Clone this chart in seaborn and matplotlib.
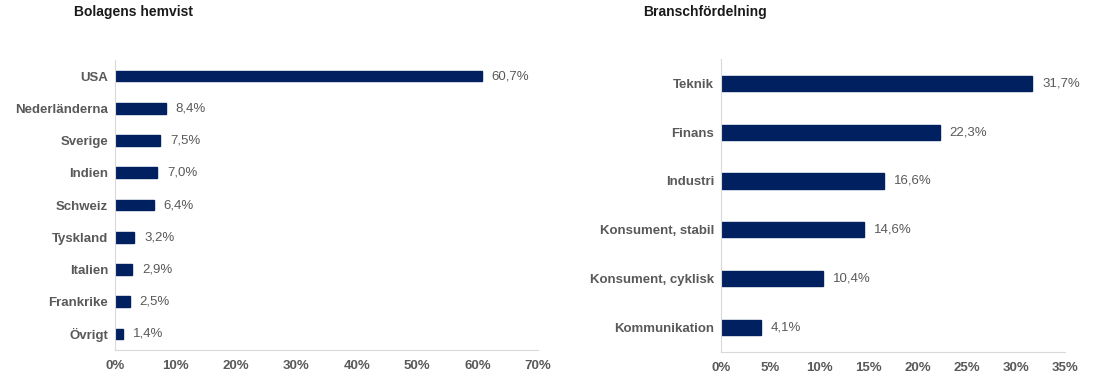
import matplotlib
matplotlib.use("Agg")
import matplotlib.pyplot as plt
import seaborn as sns
import numpy as np
import pandas as pd
from matplotlib.ticker import FixedLocator, FuncFormatter

sns.set_theme(style="white")
plt.rcParams['font.family'] = ['Liberation Sans', 'DejaVu Sans']

countries = ["USA", "Nederländerna", "Sverige", "Indien", "Schweiz",
             "Tyskland", "Italien", "Frankrike", "Övrigt"]
country_vals = [60.7, 8.4, 7.5, 7.0, 6.4, 3.2, 2.9, 2.5, 1.4]

sectors = ["Teknik", "Finans", "Industri", "Konsument, stabil",
           "Konsument, cyklisk", "Kommunikation"]
sector_vals = [31.7, 22.3, 16.6, 14.6, 10.4, 4.1]

left_title = "Bolagens hemvist"
right_title = "Branschfördelning"

NAVY = "#002060"
GREY = "#595959"
SPINE = "#d9d9d9"

fig = plt.figure(figsize=(11, 3.8), dpi=100)
ax1 = fig.add_axes([0.1045, 0.079, 0.3845, 0.763])
ax2 = fig.add_axes([0.6555, 0.074, 0.3125, 0.771])


def draw(ax, cats, vals, xmax, step, width, title, title_x):
    df = pd.DataFrame({"cat": cats, "val": vals})
    sns.barplot(data=df, y="cat", x="val", orient="h", color=NAVY,
                width=width, saturation=1, ax=ax, edgecolor=NAVY)
    n = len(cats)
    ax.set_xlim(0, xmax)
    ax.set_ylim(n - 0.5, -0.5)
    ax.set_xlabel("")
    ax.set_ylabel("")
    ax.xaxis.set_major_locator(FixedLocator(np.arange(0, xmax + 0.01, step)))
    ax.xaxis.set_major_formatter(FuncFormatter(lambda v, p: f"{v:.0f}%"))
    for lbl in ax.get_xticklabels():
        lbl.set_fontweight("bold")
    ax.tick_params(axis="x", labelsize=9.5, colors=GREY, length=3,
                   width=0.8, color=SPINE, direction="out", pad=4)
    ax.tick_params(axis="y", labelsize=9.5, colors=GREY, length=0, pad=5)
    for lbl in ax.get_yticklabels():
        lbl.set_fontweight("bold")
    ax.set_yticks(np.arange(-0.5, n, 1.0), minor=True)
    ax.tick_params(axis="y", which="minor", length=4, width=0.8,
                   color=SPINE, direction="out")
    for s in ["top", "right"]:
        ax.spines[s].set_visible(False)
    for s in ["left", "bottom"]:
        ax.spines[s].set_color(SPINE)
        ax.spines[s].set_linewidth(0.8)
    ax.grid(False)
    for i, v in enumerate(vals):
        ax.annotate(f"{v:.1f}%".replace(".", ","), xy=(v, i),
                    xytext=(7, 0), textcoords="offset points",
                    va="center", ha="left", fontsize=9.5, color=GREY)
    fig.text(title_x, 0.987, title, fontsize=10, fontweight="bold",
             color="#1a1a1a", ha="left", va="top")


draw(ax1, countries, country_vals, 70, 10, 0.33, left_title, 0.067)
draw(ax2, sectors, sector_vals, 35, 5, 0.31, right_title, 0.585)

fig.savefig("out.png", dpi=100, facecolor="white")
